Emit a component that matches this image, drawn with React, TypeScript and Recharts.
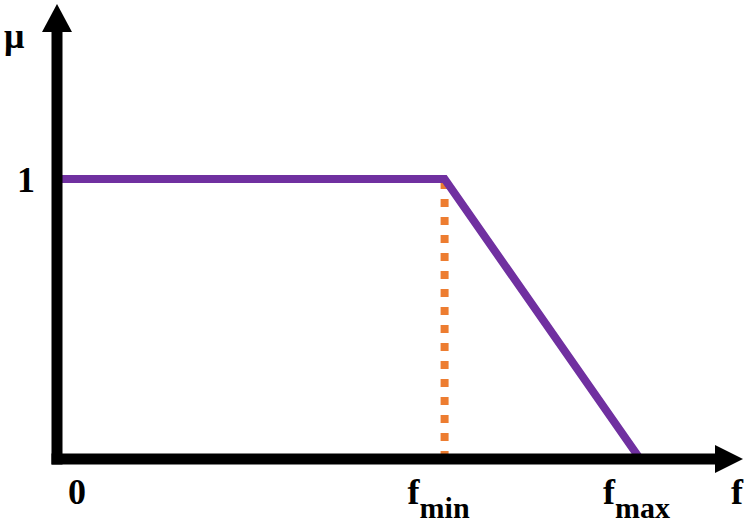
import React from 'react'
import { LineChart, Line, XAxis, YAxis, ReferenceLine, Customized } from 'recharts'

// membership curve: flat at 1 up to fmin, falls to 0 at fmax
const fValues = [0, 56.5, 85]
const muValues = [1, 1, 0]

const xTicks = [0, 56.5, 85]
const xTickMain = ['0', 'f', 'f']
const xTickSub = ['', 'min', 'max']
const xTickShift = [11, -37, -37]

const yTicks = [1]
const yTickLabels = ['1']

const fMin = 56.5

const data = fValues.map((f, i) => ({ f, mu: muValues[i] }))

const FONT = '"Liberation Serif", "Times New Roman", serif'
const AXIS_W = 11

function XTick(props: any) {
    const { x, payload } = props
    const i = xTicks.indexOf(payload.value)
    return (
        <text x={x + xTickShift[i]} y={504} fontFamily={FONT} fontWeight="bold" fontSize={36} fill="#000">
            <tspan>{xTickMain[i]}</tspan>
            {xTickSub[i] && (
                <tspan fontSize={30} dy={14}>{xTickSub[i]}</tspan>
            )}
        </text>
    )
}

function YTick(props: any) {
    const { y, payload } = props
    const i = yTicks.indexOf(payload.value)
    return (
        <text x={17} y={y + 13} fontFamily={FONT} fontWeight="bold" fontSize={36} fill="#000">
            {yTickLabels[i]}
        </text>
    )
}

// horizontal axis with arrow head
function XArrow(props: any) {
    const { y1 } = props
    const left = Math.min(props.x1, props.x2)
    const right = Math.max(props.x1, props.x2)
    return (
        <g>
            <line x1={left - AXIS_W / 2} y1={y1} x2={right - 26} y2={y1} stroke="#000" strokeWidth={AXIS_W} />
            <polygon points={`${right - 28},${y1 - 14} ${right},${y1} ${right - 28},${y1 + 14}`} fill="#000" />
        </g>
    )
}

// vertical axis with arrow head
function YArrow(props: any) {
    const { x1 } = props
    const top = Math.min(props.y1, props.y2)
    const bottom = Math.max(props.y1, props.y2)
    return (
        <g>
            <line x1={x1} y1={bottom + AXIS_W / 2} x2={x1} y2={top + 26} stroke="#000" strokeWidth={AXIS_W} />
            <polygon points={`${x1 - 15},${top + 28} ${x1},${top} ${x1 + 15},${top + 28}`} fill="#000" />
        </g>
    )
}

const AxisNames = () => (
    <g fontFamily={FONT} fontWeight="bold" fontSize={36} fill="#000">
        <text x={4} y={48}>μ</text>
        <text x={731} y={504}>f</text>
    </g>
)

export default function App() {
    return (
        <div style={{ position: 'absolute', left: 0, top: 0, background: '#fff' }}>
            <LineChart width={750} height={523} data={data} margin={{ top: 4, right: 7, bottom: 0, left: 0 }}>
                <XAxis
                    dataKey="f"
                    type="number"
                    domain={[0, 100]}
                    ticks={xTicks}
                    axisLine={false}
                    tickLine={false}
                    tick={<XTick />}
                    height={64}
                    interval={0}
                />
                <YAxis
                    type="number"
                    domain={[0, 1.625]}
                    ticks={yTicks}
                    axisLine={false}
                    tickLine={false}
                    tick={<YTick />}
                    width={57}
                />
                <ReferenceLine
                    segment={[{ x: fMin, y: 0 }, { x: fMin, y: 1 }]}
                    stroke="#ED7D31"
                    strokeWidth={8}
                    strokeDasharray="8 10"
                />
                <Line
                    dataKey="mu"
                    stroke="#7030A0"
                    strokeWidth={8}
                    dot={false}
                    activeDot={false}
                    type="linear"
                    isAnimationActive={false}
                />
                <ReferenceLine y={0} shape={<XArrow />} />
                <ReferenceLine x={0} shape={<YArrow />} />
                <Customized component={AxisNames} />
            </LineChart>
        </div>
    )
}
